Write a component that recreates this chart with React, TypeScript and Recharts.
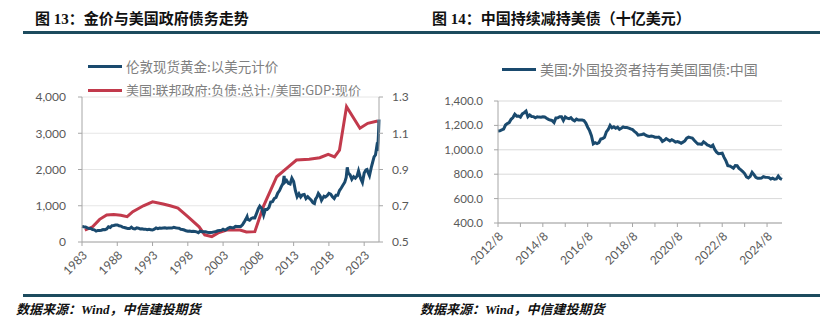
import React from 'react';
import { LineChart, Line, XAxis, YAxis, CartesianGrid } from 'recharts';

// 图13: London gold spot (USD) vs US federal debt / GDP
const goldYears = [
  1983, 1983.25, 1983.5, 1983.75, 1984, 1984.25, 1984.5, 1984.75, 1985, 1985.25, 1985.5, 1985.75,
  1986, 1986.25, 1986.5, 1986.75, 1987, 1987.25, 1987.5, 1987.75, 1988, 1988.25, 1988.5, 1988.75,
  1989, 1989.25, 1989.5, 1989.75, 1990, 1990.25, 1990.5, 1990.75, 1991, 1991.25, 1991.5, 1991.75,
  1992, 1992.25, 1992.5, 1992.75, 1993, 1993.25, 1993.5, 1993.75, 1994, 1994.25, 1994.5, 1994.75,
  1995, 1995.25, 1995.5, 1995.75, 1996, 1996.25, 1996.5, 1996.75, 1997, 1997.25, 1997.5, 1997.75,
  1998, 1998.25, 1998.5, 1998.75, 1999, 1999.25, 1999.5, 1999.75, 2000, 2000.25, 2000.5, 2000.75,
  2001, 2001.25, 2001.5, 2001.75, 2002, 2002.25, 2002.5, 2002.75, 2003, 2003.25, 2003.5, 2003.75,
  2004, 2004.25, 2004.5, 2004.75, 2005, 2005.25, 2005.5, 2005.75, 2006, 2006.25, 2006.4, 2006.5,
  2006.75, 2007, 2007.25, 2007.5, 2007.75, 2008, 2008.2, 2008.5, 2008.75, 2009, 2009.25, 2009.5,
  2009.75, 2010, 2010.25, 2010.5, 2010.75, 2011, 2011.25, 2011.5, 2011.65, 2011.75, 2012, 2012.25,
  2012.5, 2012.75, 2013, 2013.25, 2013.5, 2013.75, 2014, 2014.25, 2014.5, 2014.75, 2015, 2015.25,
  2015.5, 2015.75, 2015.95, 2016.1, 2016.3, 2016.5, 2016.75, 2016.95, 2017.1, 2017.3, 2017.5, 2017.75,
  2018, 2018.25, 2018.5, 2018.75, 2019, 2019.25, 2019.5, 2019.75, 2020, 2020.25, 2020.45, 2020.6,
  2020.75, 2021, 2021.25, 2021.5, 2021.75, 2022, 2022.2, 2022.5, 2022.75, 2023, 2023.25, 2023.4,
  2023.55, 2023.75, 2024, 2024.2, 2024.4, 2024.6, 2024.8, 2024.9, 2024.97, 2025.02, 2025.06, 2025.1,
];
const goldPrices = [
  430, 420, 415, 390, 375, 375, 345, 335, 300, 320, 318, 325,
  345, 340, 360, 420, 400, 450, 455, 470, 470, 450, 440, 410,
  400, 385, 370, 370, 410, 370, 360, 390, 380, 360, 365, 355,
  355, 340, 350, 340, 330, 355, 390, 370, 385, 380, 385, 390,
  378, 385, 387, 385, 405, 392, 385, 380, 350, 345, 330, 310,
  295, 305, 290, 295, 288, 280, 258, 300, 285, 280, 282, 268,
  265, 262, 270, 280, 290, 310, 315, 320, 355, 330, 350, 385,
  405, 395, 395, 430, 425, 430, 430, 475, 555, 640, 700, 620,
  600, 650, 670, 665, 790, 920, 990, 920, 740, 900, 900, 950,
  1100, 1110, 1200, 1230, 1350, 1420, 1530, 1620, 1820, 1650, 1700, 1620,
  1600, 1760, 1670, 1420, 1250, 1330, 1240, 1300, 1310, 1200, 1250, 1200,
  1150, 1080, 1060, 1180, 1240, 1340, 1270, 1150, 1200, 1260, 1240, 1280,
  1340, 1320, 1250, 1200, 1290, 1290, 1420, 1490, 1570, 1650, 1780, 2060,
  1900, 1850, 1730, 1800, 1760, 1820, 1960, 1750, 1640, 1900, 1990, 2000,
  1920, 1830, 2050, 2200, 2350, 2400, 2650, 2620, 2750, 2950, 3150, 3380,
];
const debtYears = [
  1983.4, 1984.5, 1985.5, 1986.5, 1987.5, 1988.5, 1989.4, 1990.2, 1991.7, 1993.0, 1994.5, 1995.5,
  1996.6, 1998.0, 1999.6, 2000.4, 2001.4, 2002.3, 2003.5, 2005.4, 2006.3, 2007.5, 2008.7, 2010.6,
  2012.0, 2013.4, 2015.2, 2016.7, 2017.9, 2018.8, 2019.5, 2020.5, 2022.4, 2023.5, 2024.9,
];
const debtRatio = [
  0.566, 0.584, 0.625, 0.649, 0.652, 0.648, 0.64, 0.667, 0.7, 0.722, 0.71, 0.7,
  0.687, 0.64, 0.584, 0.539, 0.53, 0.55, 0.566, 0.566, 0.555, 0.557, 0.695, 0.86,
  0.906, 0.952, 0.957, 0.965, 0.984, 0.97, 1.007, 1.247, 1.128, 1.155, 1.168,
];
const leftYearTicks = [1983, 1988, 1993, 1998, 2003, 2008, 2013, 2018, 2023];
const goldTicks = [0, 1000, 2000, 3000, 4000];
const ratioTicks = [0.5, 0.7, 0.9, 1.1, 1.3];

// 图14: China holdings of US Treasuries, monthly from 2012/8 (billion USD)
const chinaHoldings = [
  1155, 1156, 1163, 1169, 1203,
  1215, 1223, 1250, 1264, 1292, 1276, 1277, 1268, 1294, 1304, 1317, 1270,
  1285, 1273, 1272, 1263, 1271, 1268, 1267, 1270, 1269, 1259, 1250, 1244,
  1239, 1223, 1261, 1263, 1271, 1271, 1241, 1270, 1259, 1255, 1264, 1246,
  1237, 1252, 1244, 1245, 1244, 1240, 1219, 1185, 1157, 1115, 1049, 1058,
  1051, 1058, 1088, 1092, 1102, 1147, 1166, 1200, 1180, 1189, 1177, 1185,
  1168, 1176, 1187, 1182, 1183, 1178, 1171, 1165, 1151, 1139, 1121, 1123,
  1126, 1131, 1120, 1113, 1110, 1112, 1110, 1103, 1102, 1105, 1092, 1069,
  1078, 1092, 1082, 1073, 1083, 1074, 1063, 1068, 1062, 1054, 1063, 1073,
  1095, 1104, 1100, 1096, 1078, 1062, 1048, 1047, 1045, 1065, 1054, 1040,
  1034, 1025, 1038, 1003, 981, 968, 970, 972, 938, 909, 870, 867,
  859, 849, 870, 869, 847, 835, 822, 805, 778, 769, 782, 816,
  797, 775, 767, 767, 768, 780, 775, 774, 772, 761, 768, 759,
  761, 784, 765, 757,
];
const holdingMonthTicks = [0, 12, 24, 36, 48, 60, 72, 84, 96, 108, 120, 132, 144];
const holdingTickLabels = ['2012/8', '', '2014/8', '', '2016/8', '', '2018/8', '', '2020/8', '', '2022/8', '', '2024/8'];
const holdingTicks = [400, 600, 800, 1000, 1200, 1400];

const BLUE = '#1a4a6e';
const RED = '#c23a4c';
const BAR = '#1d4b5e';
const AXIS = '#a6a6a6';
const LABEL = '#595959';
const NUM_FONT = 'Lato, "Noto Sans", sans-serif';
const CJK = '"Noto Sans CJK SC", sans-serif';

const leftData = Array.from(new Set([...goldYears, ...debtYears]))
  .sort((a, b) => a - b)
  .map((t) => {
    const gi = goldYears.indexOf(t);
    const di = debtYears.indexOf(t);
    return { t, gold: gi >= 0 ? goldPrices[gi] : undefined, debt: di >= 0 ? debtRatio[di] : undefined };
  });

const rightData = chinaHoldings.map((v, m) => ({ m, v }));

const RotTick = (props: any) => {
  const { x, y, payload, fmt } = props;
  const label = fmt(payload.value);
  if (!label) return null;
  const px = x + 6;
  const py = y + 8;
  return (
    <text
      x={px}
      y={py}
      transform={`rotate(-45 ${px} ${py})`}
      textAnchor="end"
      fill={LABEL}
      fontSize={12}
      fontFamily={NUM_FONT}
    >
      {label}
    </text>
  );
};

const Title = ({ left, text }: { left: number; text: string }) => (
  <div
    style={{
      position: 'absolute', left, top: 9, fontSize: 15, fontWeight: 'bold', color: '#111',
      fontFamily: '"Liberation Serif", "Noto Sans CJK SC", serif', whiteSpace: 'nowrap', lineHeight: '20px',
    }}
  >
    {text}
  </div>
);

const Source = ({ left }: { left: number }) => (
  <div
    style={{
      position: 'absolute', left, top: 301, fontSize: 13, fontWeight: 'bold', fontStyle: 'italic', color: '#111',
      fontFamily: '"Liberation Serif", "Noto Sans CJK SC", serif', whiteSpace: 'nowrap', lineHeight: '18px',
    }}
  >
    数据来源：Wind，中信建投期货
  </div>
);

const LegendItem = ({ left, top, color, text, size }: any) => (
  <div style={{ position: 'absolute', left, top, display: 'flex', alignItems: 'center', whiteSpace: 'nowrap' }}>
    <div style={{ width: 34, height: 3, background: color }} />
    <span style={{ marginLeft: 4, fontSize: size, color: '#7f7f7f', fontFamily: CJK, lineHeight: '18px' }}>{text}</span>
  </div>
);

const bar = (left: number, top: number, width: number) => (
  <div style={{ position: 'absolute', left, top, width, height: 3, background: BAR }} />
);

export default function App() {
  return (
    <div style={{ position: 'absolute', left: 0, top: 0, width: 831, height: 321, background: '#fff', overflow: 'hidden' }}>
      <Title left={35} text="图 13：金价与美国政府债务走势" />
      <Title left={432} text="图 14：中国持续减持美债（十亿美元）" />
      {bar(23, 31, 797)}
      {bar(23, 294, 797)}
      <Source left={16} />
      <Source left={420} />

      <LegendItem left={88} top={57} color={BLUE} text="伦敦现货黄金:以美元计价" size={13.5} />
      <LegendItem left={88} top={81} color={RED} text="美国:联邦政府:负债:总计:/美国:GDP:现价" size={13} />
      <LegendItem left={502} top={60} color={BLUE} text="美国:外国投资者持有美国国债:中国" size={14} />

      <div style={{ position: 'absolute', left: 0, top: 0 }}>
        <LineChart width={415} height={321} data={leftData} margin={{ top: 97, right: 6, bottom: 29, left: 22 }}>
          <CartesianGrid yAxisId="left" vertical={false} stroke="#e6e6e6" />
          <XAxis
            dataKey="t"
            type="number"
            domain={[1983, 2025.1]}
            ticks={leftYearTicks}
            interval={0}
            height={50}
            axisLine={{ stroke: AXIS }}
            tickLine={{ stroke: AXIS }}
            tickSize={4}
            tick={<RotTick fmt={(v: number) => String(v)} />}
          />
          <YAxis
            yAxisId="left"
            domain={[0, 4000]}
            ticks={goldTicks}
            width={60}
            axisLine={{ stroke: AXIS }}
            tickLine={{ stroke: AXIS }}
            tickSize={4}
            tickMargin={12}
            tick={{ fill: LABEL, fontSize: 12, fontFamily: NUM_FONT }}
            tickFormatter={(v: number) => v.toLocaleString('en-US')}
          />
          <YAxis
            yAxisId="right"
            orientation="right"
            domain={[0.5, 1.3]}
            ticks={ratioTicks}
            width={30}
            axisLine={{ stroke: AXIS }}
            tickLine={{ stroke: AXIS }}
            tickSize={4}
            tickMargin={9}
            tick={{ fill: LABEL, fontSize: 12, fontFamily: NUM_FONT, textAnchor: 'start' }}
            tickFormatter={(v: number) => v.toFixed(1)}
          />
          <Line yAxisId="right" dataKey="debt" stroke={RED} strokeWidth={3} dot={false} connectNulls isAnimationActive={false} />
          <Line yAxisId="left" dataKey="gold" stroke={BLUE} strokeWidth={3} dot={false} connectNulls isAnimationActive={false} />
        </LineChart>
      </div>

      <div style={{ position: 'absolute', left: 415, top: 0 }}>
        <LineChart width={416} height={321} data={rightData} margin={{ top: 101, right: 49, bottom: 48, left: 23 }}>
          <CartesianGrid vertical={false} stroke="#d9d9d9" />
          <XAxis
            dataKey="m"
            type="number"
            domain={[0, 152]}
            ticks={holdingMonthTicks}
            interval={0}
            height={50}
            axisLine={{ stroke: AXIS }}
            tickLine={{ stroke: AXIS }}
            tickSize={4}
            tick={<RotTick fmt={(v: number) => holdingTickLabels[holdingMonthTicks.indexOf(v)]} />}
          />
          <YAxis
            domain={[400, 1400]}
            ticks={holdingTicks}
            width={60}
            axisLine={{ stroke: AXIS }}
            tickLine={{ stroke: AXIS }}
            tickSize={4}
            tickMargin={11}
            tick={{ fill: LABEL, fontSize: 11.5, fontFamily: NUM_FONT }}
            tickFormatter={(v: number) => v.toLocaleString('en-US', { minimumFractionDigits: 1, maximumFractionDigits: 1 })}
          />
          <Line dataKey="v" stroke={BLUE} strokeWidth={3} dot={false} isAnimationActive={false} />
        </LineChart>
      </div>
    </div>
  );
}
